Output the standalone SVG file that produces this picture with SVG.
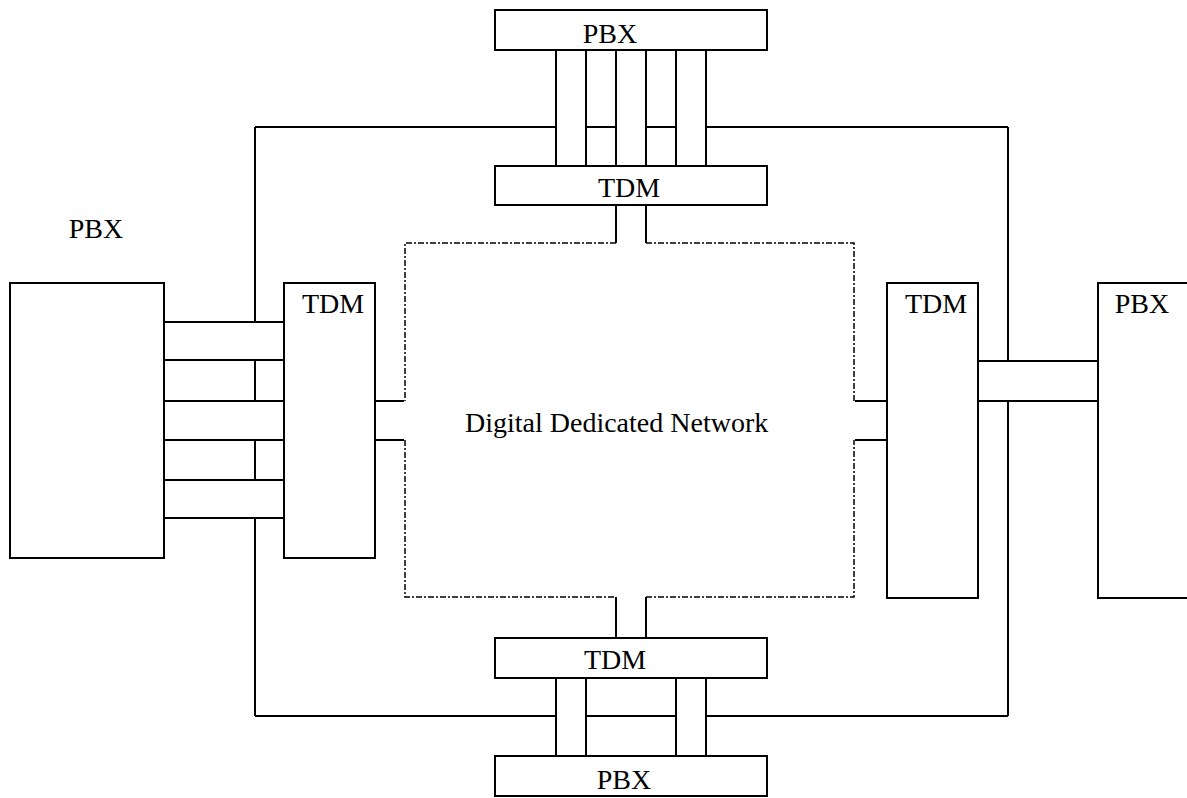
<svg xmlns="http://www.w3.org/2000/svg" width="1187" height="798" viewBox="0 0 1187 798">
<style>
.box{fill:#fff;stroke:#000;stroke-width:2}
.ln{fill:none;stroke:#000;stroke-width:2}
.net{fill:none;stroke:#000;stroke-width:1.5;stroke-dasharray:6 2 2 2}
text{font-family:"Liberation Serif","Times New Roman",serif;font-size:28px;fill:#000}
</style>
<rect width="1187" height="798" fill="#fff"/>
<g id="connectors">
<!-- top wires -->
<path class="ln" d="M556,50V166M586,50V166M616,50V166M646,50V166M676,50V166M706,50V166"/>
<path class="ln" d="M255,127H556M586,127H616M646,127H676M706,127H1008"/>
<path class="ln" d="M616,205V243M646,205V243"/>
<!-- left wires -->
<path class="ln" d="M255,127V322M255,360V401M255,440V480M255,518V716"/>
<path class="ln" d="M164,322H284M164,360H284M164,401H284M164,440H284M164,480H284M164,518H284"/>
<path class="ln" d="M375,401H404M375,440H404"/>
<!-- right wires -->
<path class="ln" d="M1008,127V361M1008,400V716"/>
<path class="ln" d="M978,361H1098M978,401H1098"/>
<path class="ln" d="M855,401H887M855,440H887"/>
<!-- bottom wires -->
<path class="ln" d="M616,597V638M646,597V638"/>
<path class="ln" d="M556,678V756M586,678V756M676,678V756M706,678V756"/>
<path class="ln" d="M255,716H556M586,716H676M706,716H1008"/>
</g>
<g id="network">
<path class="net" d="M616,243H405V401M405,440V597H616M646,597H854V440M854,401V243H646"/>
<text x="465" y="432">Digital Dedicated Network</text>
</g>
<g id="pbx-top"><rect class="box" x="495" y="10" width="272" height="40"/><text x="610" y="43" text-anchor="middle">PBX</text></g>
<g id="tdm-top"><rect class="box" x="495" y="166" width="272" height="39"/><text x="629" y="197" text-anchor="middle">TDM</text></g>
<g id="pbx-left"><rect class="box" x="10" y="283" width="154" height="275"/><text x="96" y="238" text-anchor="middle">PBX</text></g>
<g id="tdm-left"><rect class="box" x="284" y="283" width="91" height="275"/><text x="333" y="313" text-anchor="middle">TDM</text></g>
<g id="tdm-right"><rect class="box" x="887" y="283" width="91" height="315"/><text x="936" y="313" text-anchor="middle">TDM</text></g>
<g id="pbx-right"><rect class="box" x="1098" y="283" width="100" height="315"/><text x="1142" y="313" text-anchor="middle">PBX</text></g>
<g id="tdm-bottom"><rect class="box" x="495" y="638" width="272" height="40"/><text x="615" y="669" text-anchor="middle">TDM</text></g>
<g id="pbx-bottom"><rect class="box" x="495" y="756" width="272" height="40"/><text x="624" y="789" text-anchor="middle">PBX</text></g>
</svg>
